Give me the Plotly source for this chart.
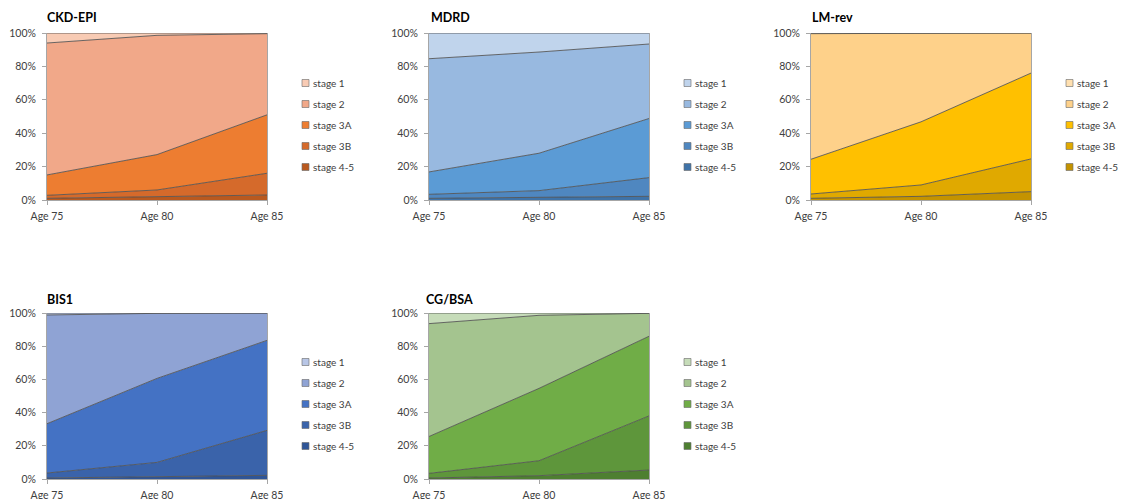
import plotly.graph_objects as go

# Age categories on the x axis
ages = ["Age 75", "Age 80", "Age 85"]
stages = ["stage 4-5", "stage 3B", "stage 3A", "stage 2", "stage 1"]

# Share of participants (%) per CKD stage, bottom of the stack first
ckd_epi_45 = [1.0, 1.8, 3.0]
ckd_epi_3b = [1.8, 4.2, 13.0]
ckd_epi_3a = [12.2, 21.2, 35.0]
ckd_epi_2 = [79.0, 71.4, 48.6]
ckd_epi_1 = [6.0, 1.4, 0.4]

mdrd_45 = [1.0, 1.8, 2.2]
mdrd_3b = [2.4, 3.8, 11.2]
mdrd_3a = [13.4, 22.4, 35.4]
mdrd_2 = [67.8, 60.6, 44.6]
mdrd_1 = [15.4, 11.4, 6.6]

lmrev_45 = [1.0, 2.2, 5.0]
lmrev_3b = [2.6, 6.8, 19.6]
lmrev_3a = [20.8, 37.8, 51.4]
lmrev_2 = [75.2, 53.0, 24.0]
lmrev_1 = [0.4, 0.2, 0.0]

bis1_45 = [0.6, 1.2, 2.2]
bis1_3b = [3.0, 8.8, 27.1]
bis1_3a = [29.7, 50.6, 54.2]
bis1_2 = [65.5, 39.2, 16.5]
bis1_1 = [1.2, 0.2, 0.0]

cgbsa_45 = [0.6, 2.0, 5.4]
cgbsa_3b = [2.8, 9.0, 32.6]
cgbsa_3a = [22.2, 43.6, 48.0]
cgbsa_2 = [68.0, 44.0, 13.8]
cgbsa_1 = [6.4, 1.4, 0.2]

W, H = 1121, 499

panels = [
    dict(name="CKD-EPI", series=[ckd_epi_45, ckd_epi_3b, ckd_epi_3a, ckd_epi_2, ckd_epi_1],
         colors=["#B9591F", "#D56A2B", "#ED7D31", "#F1A889", "#F8CBB4"],
         box=(47, 267, 33, 200), title_xy=(45, 17), legend_top=83),
    dict(name="MDRD", series=[mdrd_45, mdrd_3b, mdrd_3a, mdrd_2, mdrd_1],
         colors=["#3F73A8", "#4F87C0", "#5B9BD5", "#98B9E0", "#C0D4EC"],
         box=(429, 649, 33, 200), title_xy=(429, 17), legend_top=83),
    dict(name="LM-rev", series=[lmrev_45, lmrev_3b, lmrev_3a, lmrev_2, lmrev_1],
         colors=["#C49300", "#E0A900", "#FFC000", "#FED18A", "#FFE0B0"],
         box=(811, 1031, 33, 200), title_xy=(810, 17), legend_top=83),
    dict(name="BIS1", series=[bis1_45, bis1_3b, bis1_3a, bis1_2, bis1_1],
         colors=["#2F5597", "#3A63AA", "#4472C4", "#8FA3D4", "#B8C6E6"],
         box=(47, 267, 313, 479), title_xy=(45, 299), legend_top=362),
    dict(name="CG/BSA", series=[cgbsa_45, cgbsa_3b, cgbsa_3a, cgbsa_2, cgbsa_1],
         colors=["#4E7F31", "#5E963B", "#70AD47", "#A4C48F", "#C6DCB9"],
         box=(429, 649, 313, 479), title_xy=(424, 299), legend_top=362),
]

FONT = "Lato"
TXT = "#404040"
AXIS = "#A6A6A6"
EDGE = "rgba(80,80,80,0.85)"
ROW = 21  # legend row pitch (px)

fig = go.Figure()
annotations, shapes = [], []
axes = {}

for i, p in enumerate(panels):
    k = "" if i == 0 else str(i + 1)
    xa, ya = "x" + k, "y" + k
    x0, x1, y0, y1 = p["box"]
    for sname, vals, col in zip(stages, p["series"], p["colors"]):
        fig.add_trace(go.Scatter(
            x=ages, y=vals, xaxis=xa, yaxis=ya,
            stackgroup="g" + str(i), mode="lines",
            line=dict(color=EDGE, width=1),
            fillcolor=col, name=sname, showlegend=False,
            hoverinfo="skip",
        ))
    axes["xaxis" + k] = dict(
        domain=[x0 / W, x1 / W], anchor=ya, type="category",
        range=[0, 2], showline=True, linecolor=AXIS, linewidth=1,
        ticks="outside", ticklen=4, tickcolor=AXIS, showgrid=False,
        zeroline=False, tickfont=dict(family=FONT, size=10.5, color=TXT),
        ticklabelstandoff=2, fixedrange=True, automargin=False,
    )
    axes["yaxis" + k] = dict(
        domain=[1 - y1 / H, 1 - y0 / H], anchor=xa,
        range=[0, 100], dtick=20, ticksuffix="%",
        showline=True, linecolor=AXIS, linewidth=1, mirror=True,
        ticks="outside", ticklen=4, tickcolor=AXIS, showgrid=False,
        zeroline=False, tickfont=dict(family=FONT, size=10.5, color=TXT),
        ticklabelstandoff=4, fixedrange=True, automargin=False,
    )

    # legend: stage 1 at the top down to stage 4-5
    sw_left = x1 + 35
    for r, (sname, col) in enumerate(zip(stages[::-1], p["colors"][::-1])):
        cy = p["legend_top"] + r * ROW
        shapes.append(dict(
            type="rect", xref="paper", yref="paper",
            x0=sw_left / W, x1=(sw_left + 7) / W,
            y0=1 - (cy + 3.5) / H, y1=1 - (cy - 3.5) / H,
            fillcolor=col, line=dict(color="rgba(110,110,110,0.8)", width=0.8),
        ))
        annotations.append(dict(
            text=sname, xref="paper", yref="paper",
            x=(sw_left + 9) / W, y=1 - cy / H,
            xanchor="left", yanchor="middle", showarrow=False,
            font=dict(family=FONT, size=10, color=TXT),
        ))

    tx, ty = p["title_xy"]
    annotations.append(dict(
        text="<b>" + p["name"] + "</b>", xref="paper", yref="paper",
        x=tx / W, y=1 - ty / H, xanchor="left", yanchor="middle",
        showarrow=False, font=dict(family=FONT, size=12.5, color="#000000"),
    ))

fig.update_layout(
    width=W, height=H,
    margin=dict(l=0, r=0, t=0, b=0, pad=0, autoexpand=False),
    paper_bgcolor="white", plot_bgcolor="white",
    font=dict(family=FONT, size=11, color=TXT),
    showlegend=False,
    annotations=annotations, shapes=shapes,
    **axes,
)
fig.write_html("out.html")
